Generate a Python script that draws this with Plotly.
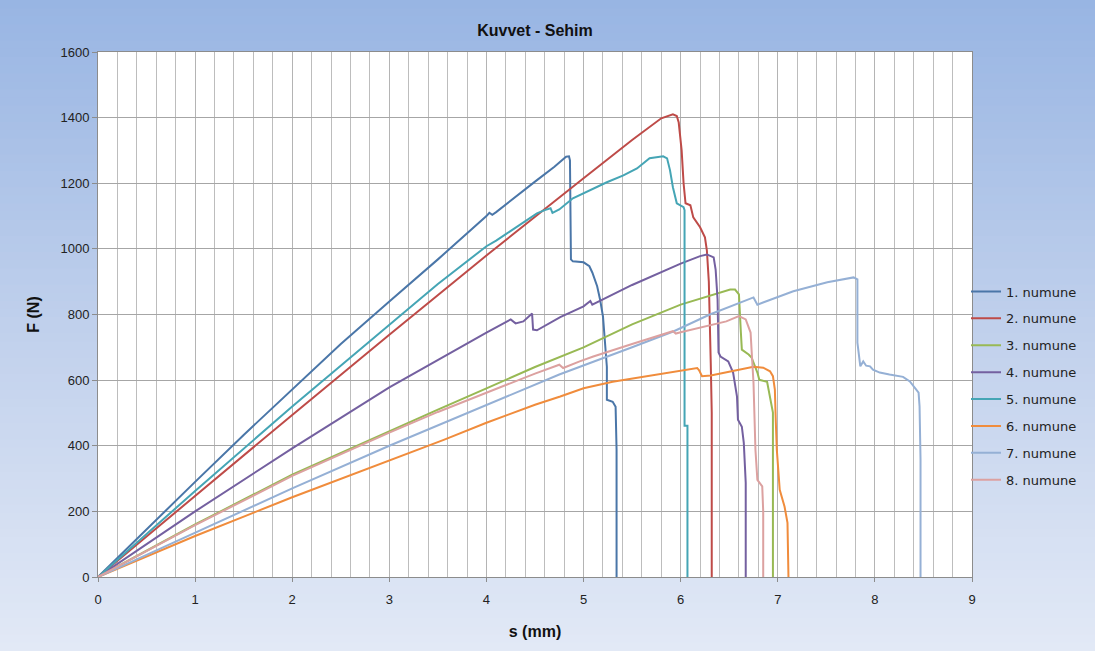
import plotly.graph_objects as go

# Force–deflection records for eight specimens: s in mm, F in N
s1 = [0, 0.5, 1.0, 1.5, 2.0, 2.5, 3.0, 3.5, 4.0, 4.03, 4.06, 4.1, 4.5, 4.7, 4.82, 4.85, 4.86, 4.87, 4.89, 5.00, 5.06, 5.09, 5.14, 5.17, 5.20, 5.22, 5.24, 5.24, 5.30, 5.33, 5.34, 5.34]
F1 = [0, 146, 290, 433, 572, 710, 840, 968, 1100, 1110, 1104, 1112, 1205, 1250, 1281, 1282, 1270, 968, 962, 959, 947, 928, 886, 846, 794, 724, 641, 540, 534, 519, 388, 0]

s2 = [0, 1, 2, 3, 4, 5, 5.5, 5.8, 5.87, 5.92, 5.96, 5.98, 6.01, 6.03, 6.05, 6.10, 6.13, 6.20, 6.25, 6.27, 6.29, 6.30, 6.31, 6.32, 6.32]
F2 = [0, 248, 494, 738, 980, 1215, 1332, 1398, 1405, 1410, 1405, 1385, 1300, 1200, 1139, 1133, 1096, 1066, 1035, 995, 900, 800, 650, 500, 0]

s3 = [0, 1, 2, 3, 3.5, 4, 4.5, 5, 5.5, 6, 6.3, 6.51, 6.56, 6.60, 6.62, 6.63, 6.70, 6.73, 6.79, 6.81, 6.89, 6.92, 6.95, 6.95]
F3 = [0, 160, 312, 445, 510, 575, 640, 700, 770, 830, 858, 876, 876, 861, 745, 693, 678, 669, 623, 601, 595, 550, 501, 0]

s4 = [0, 1, 2, 3, 4, 4.25, 4.30, 4.38, 4.47, 4.48, 4.52, 4.76, 5.0, 5.07, 5.09, 5.5, 6.0, 6.2, 6.27, 6.34, 6.36, 6.38, 6.39, 6.41, 6.49, 6.54, 6.58, 6.59, 6.63, 6.65, 6.67, 6.67]
F4 = [0, 200, 392, 578, 745, 785, 773, 779, 803, 754, 752, 792, 825, 841, 830, 890, 955, 978, 983, 974, 937, 846, 684, 672, 657, 623, 550, 479, 458, 409, 287, 0]

s5 = [0, 1, 2, 3, 3.5, 4.0, 4.1, 4.2, 4.3, 4.4, 4.52, 4.6, 4.66, 4.68, 4.75, 4.89, 5.0, 5.24, 5.41, 5.55, 5.68, 5.75, 5.82, 5.86, 5.89, 5.92, 5.96, 6.03, 6.04, 6.04, 6.07, 6.07]
F5 = [0, 262, 520, 770, 893, 1008, 1025, 1045, 1065, 1085, 1108, 1118, 1124, 1110, 1120, 1154, 1170, 1203, 1224, 1245, 1276, 1278, 1282, 1276, 1240, 1188, 1139, 1127, 1118, 461, 461, 0]

s6 = [0, 1, 2, 3, 3.56, 4, 4.5, 4.76, 5.0, 5.3, 5.76, 6.0, 6.17, 6.19, 6.22, 6.31, 6.54, 6.75, 6.85, 6.92, 6.95, 6.97, 6.98, 6.99, 7.02, 7.07, 7.10, 7.11]
F6 = [0, 125, 243, 355, 418, 470, 525, 550, 575, 595, 617, 628, 637, 630, 612, 614, 627, 641, 638, 627, 612, 571, 470, 388, 266, 214, 165, 0]

s7 = [0, 1, 2, 3, 4, 4.75, 5.5, 5.93, 6.3, 6.75, 6.79, 7.16, 7.51, 7.64, 7.78, 7.82, 7.82, 7.85, 7.88, 7.91, 7.95, 7.98, 8.05, 8.15, 8.29, 8.36, 8.41, 8.45, 8.46, 8.47, 8.47]
F7 = [0, 136, 270, 400, 525, 617, 700, 749, 800, 852, 830, 871, 898, 905, 913, 907, 714, 642, 657, 644, 642, 632, 623, 617, 610, 596, 577, 562, 520, 357, 0]

s8 = [0, 1, 2, 3, 3.5, 4, 4.5, 4.75, 4.79, 4.96, 5.1, 5.5, 5.92, 5.95, 6.0, 6.47, 6.6, 6.67, 6.72, 6.73, 6.75, 6.77, 6.79, 6.84, 6.85, 6.85]
F8 = [0, 158, 308, 440, 503, 562, 620, 647, 637, 657, 672, 710, 749, 742, 746, 779, 795, 785, 745, 693, 592, 388, 296, 276, 200, 0]

names = ["1. numune", "2. numune", "3. numune", "4. numune",
         "5. numune", "6. numune", "7. numune", "8. numune"]
colors = ["#4a76a8", "#be4b48", "#98b954", "#7460a0",
          "#45a5b5", "#f08c3c", "#95b0d5", "#dca1a0"]
xs = [s1, s2, s3, s4, s5, s6, s7, s8]
ys = [F1, F2, F3, F4, F5, F6, F7, F8]

W, H = 1095, 651
ML, MR, MT, MB = 98, 123, 52, 74
PW, PH = W - ML - MR, H - MT - MB

fig = go.Figure()
for name, x, y, c in zip(names, xs, ys, colors):
    fig.add_trace(go.Scatter(x=x, y=y, mode="lines", name=name, legendgroup=name,
                             line=dict(color=c, width=2)))

# vertical gradient behind the whole chart, built from thin strips
def px_to_paper_y(py):
    return (H - MB - py) / PH

def px_to_paper_x(px):
    return (px - ML) / PW

stops = [(0.0, (152, 181, 227)), (0.5, (192, 208, 236)), (1.0, (226, 233, 246))]

def grad(t):
    for (t0, c0), (t1, c1) in zip(stops[:-1], stops[1:]):
        if t <= t1:
            f = (t - t0) / (t1 - t0)
            return tuple(round(a + (b - a) * f) for a, b in zip(c0, c1))
    return stops[-1][1]

shapes = []
N = 80
for i in range(N):
    y_top = i * H / N
    y_bot = (i + 1) * H / N + 1
    r, g, b = grad((i + 0.5) / N)
    shapes.append(dict(type="rect", xref="paper", yref="paper", layer="below",
                       x0=px_to_paper_x(-2), x1=px_to_paper_x(W + 2),
                       y0=px_to_paper_y(y_bot), y1=px_to_paper_y(y_top),
                       fillcolor=f"rgb({r},{g},{b})", line=dict(width=0)))
shapes.append(dict(type="rect", xref="paper", yref="paper", layer="below",
                   x0=0, x1=1, y0=0, y1=1, fillcolor="white", line=dict(width=0)))

tick_font = dict(family="Liberation Sans, Arial, sans-serif", size=13, color="#222222")
title_font = dict(family="Liberation Sans, Arial, sans-serif", size=16, color="#111111")

fig.update_layout(
    width=W, height=H,
    margin=dict(l=ML, r=MR, t=MT, b=MB),
    paper_bgcolor="rgb(200,214,238)",
    plot_bgcolor="white",
    shapes=shapes,
    title=dict(text="<b>Kuvvet - Sehim</b>", x=0.5, xref="paper", xanchor="center",
               y=1 - 30 / H, yanchor="middle", font=title_font),
    showlegend=True,
    legend=dict(x=px_to_paper_x(966), xanchor="left", y=px_to_paper_y(386), yanchor="middle",
                font=dict(family="DejaVu Sans, Verdana, sans-serif", size=13, color="#222222"),
                bgcolor="rgba(0,0,0,0)", tracegroupgap=7, traceorder="grouped"),
    xaxis=dict(range=[0, 9], dtick=1, tick0=0, showgrid=True, gridcolor="#b4b4b4", gridwidth=1,
               minor=dict(dtick=0.2, showgrid=True, gridcolor="#bdbdbd", gridwidth=1),
               showline=True, linecolor="#8c8c8c", linewidth=1, mirror=True,
               ticks="outside", ticklen=4, tickcolor="#8c8c8c", ticklabelstandoff=6,
               zeroline=False, tickfont=tick_font,
               title=dict(text="<b>s (mm)</b>", font=title_font, standoff=20)),
    yaxis=dict(range=[0, 1600], dtick=200, tick0=0, showgrid=True, gridcolor="#a6a6a6", gridwidth=1,
               showline=True, linecolor="#8c8c8c", linewidth=1, mirror=True,
               ticks="outside", ticklen=5, tickcolor="#8c8c8c",
               zeroline=False, tickfont=tick_font,
               title=dict(text="<b>F (N)</b>", font=title_font, standoff=16)),
)

fig.write_html("out.html")
